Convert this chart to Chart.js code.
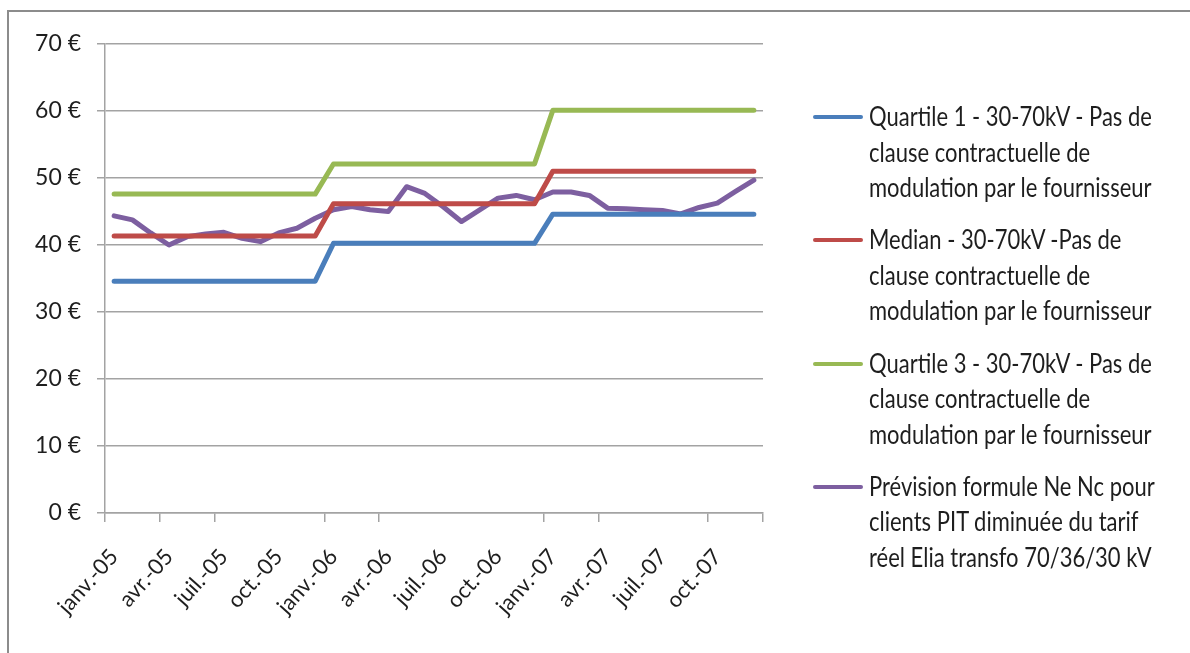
<!DOCTYPE html>
<html>
<head>
<meta charset="utf-8">
<script src="https://cdn.jsdelivr.net/npm/chart.js@4.4.1/dist/chart.umd.min.js"></script>
<style>
  html, body { margin: 0; padding: 0; background: #fff; }
  #wrap { position: relative; width: 1190px; height: 653px; overflow: hidden; }
  #frame { position: absolute; left: 7px; top: 10px; right: -10px; bottom: -10px; border-left: 2px solid #8c8c8c; border-top: 2px solid #8c8c8c; }
  #chart { position: absolute; left: 0; top: 0; }
  #legend { position: absolute; left: 813px; top: 99px; font-family: Lato, sans-serif; font-size: 22px; color: #1e1e1e; }
  .item { position: relative; padding-left: 56px; margin-bottom: 16.8px; white-space: nowrap; }
  .item span { display: block; height: 35.5px; line-height: 35.5px; transform: scaleY(1.2); transform-origin: 0 55%; }
  .swatch { position: absolute; left: 0; top: 16px; width: 50px; height: 4px; border-radius: 2px; }
</style>
</head>
<body>
<div id="wrap">
  <div id="frame"></div>
  <canvas id="chart" width="1190" height="653"></canvas>
  <div id="legend"></div>
</div>
<script>
// months Jan 2005 .. Dec 2007
const months = [
  'janv.-05','févr.-05','mars-05','avr.-05','mai-05','juin-05','juil.-05','août-05','sept.-05','oct.-05','nov.-05','déc.-05',
  'janv.-06','févr.-06','mars-06','avr.-06','mai-06','juin-06','juil.-06','août-06','sept.-06','oct.-06','nov.-06','déc.-06',
  'janv.-07','févr.-07','mars-07','avr.-07','mai-07','juin-07','juil.-07','août-07','sept.-07','oct.-07','nov.-07','déc.-07'
];

const quartile1 = [
  34.6,34.6,34.6,34.6,34.6,34.6,34.6,34.6,34.6,34.6,34.6,34.6,
  40.25,40.25,40.25,40.25,40.25,40.25,40.25,40.25,40.25,40.25,40.25,40.25,
  44.6,44.6,44.6,44.6,44.6,44.6,44.6,44.6,44.6,44.6,44.6,44.6
];
const median = [
  41.35,41.35,41.35,41.35,41.35,41.35,41.35,41.35,41.35,41.35,41.35,41.35,
  46.15,46.15,46.15,46.15,46.15,46.15,46.15,46.15,46.15,46.15,46.15,46.15,
  51.0,51.0,51.0,51.0,51.0,51.0,51.0,51.0,51.0,51.0,51.0,51.0
];
const quartile3 = [
  47.6,47.6,47.6,47.6,47.6,47.6,47.6,47.6,47.6,47.6,47.6,47.6,
  52.1,52.1,52.1,52.1,52.1,52.1,52.1,52.1,52.1,52.1,52.1,52.1,
  60.1,60.1,60.1,60.1,60.1,60.1,60.1,60.1,60.1,60.1,60.1,60.1
];
const prevision = [
  44.35,43.75,41.8,40.0,41.25,41.65,41.9,41.0,40.5,41.8,42.5,44.0,
  45.25,45.75,45.25,45.0,48.7,47.7,45.7,43.5,45.25,47.0,47.4,46.75,
  47.9,47.9,47.4,45.5,45.4,45.25,45.15,44.65,45.6,46.25,48.0,49.7
];

const seriesNames = [
  ['Quartile 1 - 30-70kV - Pas de', 'clause contractuelle de', 'modulation par le fournisseur'],
  ['Median - 30-70kV -Pas de', 'clause contractuelle de', 'modulation par le fournisseur'],
  ['Quartile 3 - 30-70kV - Pas de', 'clause contractuelle de', 'modulation par le fournisseur'],
  ['Prévision formule Ne Nc pour', 'clients PIT diminuée du tarif', 'réel Elia transfo 70/36/30 kV']
];
const seriesColors = ['#4a7ebb', '#be4b48', '#98b954', '#7d5fa0'];
const yTicks = [0, 10, 20, 30, 40, 50, 60, 70];

// x tick marks visible in the original (category boundaries)
const shownMarks = [0, 3, 6, 12, 15, 24, 27, 33];

const allSeries = [quartile1, median, quartile3, prevision];
const datasets = allSeries.map((vals, i) => ({
  label: seriesNames[i].join(' '),
  data: vals,
  borderColor: seriesColors[i],
  backgroundColor: seriesColors[i],
  borderWidth: 5,
  pointRadius: 0,
  tension: 0,
  borderCapStyle: 'round',
  borderJoinStyle: 'round'
}));

const gridGray = '#a3a3a3';

new Chart(document.getElementById('chart'), {
  type: 'line',
  data: { labels: months, datasets: datasets },
  options: {
    responsive: false,
    animation: false,
    layout: { padding: { top: 44, right: 427, left: 0, bottom: 0 } },
    plugins: { legend: { display: false }, tooltip: { enabled: false } },
    scales: {
      x: {
        offset: true,
        afterFit: (s) => { s.height = 140; },
        grid: {
          offset: true,
          drawOnChartArea: false,
          tickLength: 9,
          lineWidth: 1.5,
          color: (ctx) => (ctx.type !== 'tick' || shownMarks.includes(ctx.index)) ? gridGray : 'rgba(0,0,0,0)'
        },
        border: { color: gridGray, width: 1.5 },
        ticks: {
          autoSkip: false,
          maxRotation: 48,
          minRotation: 48,
          padding: 22,
          color: '#1e1e1e',
          font: { family: 'Lato', size: 22 },
          callback: function (v, i) { return i % 3 === 0 ? months[i] : ''; }
        }
      },
      y: {
        min: 0,
        max: 70,
        afterFit: (s) => { s.width = 105; },
        afterBuildTicks: (s) => { s.ticks = yTicks.map(v => ({ value: v })); },
        grid: { color: gridGray, lineWidth: 1.5, tickLength: 8 },
        border: { color: gridGray, width: 1.5 },
        ticks: {
          padding: 16,
          color: '#1e1e1e',
          font: { family: 'Lato', size: 23 },
          callback: (v) => v + ' €'
        }
      }
    }
  }
});

// legend built as html (multi-line labels)
const legend = document.getElementById('legend');
seriesNames.forEach((lines, i) => {
  const item = document.createElement('div');
  item.className = 'item';
  const sw = document.createElement('div');
  sw.className = 'swatch';
  sw.style.background = seriesColors[i];
  item.appendChild(sw);
  lines.forEach(t => {
    const sp = document.createElement('span');
    sp.textContent = t;
    item.appendChild(sp);
  });
  legend.appendChild(item);
});
</script>
</body>
</html>
